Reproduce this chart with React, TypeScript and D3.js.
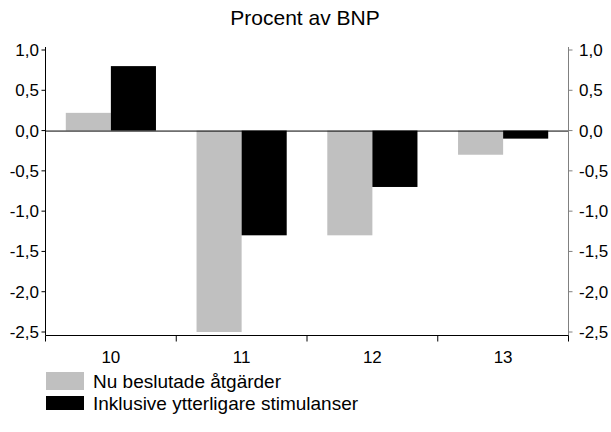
import React from "react";
import * as d3 from "d3";

const categories = ["10", "11", "12", "13"];
const seriesNames = ["Nu beslutade åtgärder", "Inklusive ytterligare stimulanser"];
const decided = [0.22, -2.5, -1.3, -0.3];
const inclusive = [0.8, -1.3, -0.7, -0.1];
const yTicks = [1.0, 0.5, 0.0, -0.5, -1.0, -1.5, -2.0, -2.5];
const title = "Effekt på offentliga sektorns finansiella sparande";
const subtitle = "Procent av BNP";

const colors = ["#c0c0c0", "#000000"];

export default function App() {
  const W = 611, H = 432;
  const left = 45.5, right = 568.5;
  const yTop = 50, yBot = 332;
  const axisY = 335.5;
  const x = d3.scaleBand().domain(categories).range([left, right]).paddingInner(0).paddingOuter(0);
  const inner = d3.scaleBand().domain(["0", "1"]).range([0, x.bandwidth()]).paddingOuter(0.45).paddingInner(0);
  const y = d3.scaleLinear().domain([-2.5, 1.0]).range([yBot, yTop]);
  const fmt = (v: number) => d3.format(".1f")(v).replace(".", ",").replace("−", "-");
  const series = [decided, inclusive];
  const font = "Arial, 'Liberation Sans', sans-serif";
  const xTicks = [...categories.map((c) => x(c)!), right];

  return (
    <svg width={W} height={H} style={{ position: "absolute", left: 0, top: 0 }} fontFamily={font}>
      <rect width={W} height={H} fill="#fff" />
      <text x={305} y={-5} textAnchor="middle" fontWeight="bold" fontSize={24}>{title}</text>
      <text x={305} y={18} dy="0.35em" textAnchor="middle" fontSize={21}>{subtitle}</text>
      {series.map((vals, si) =>
        vals.map((v, i) => {
          const bx = x(categories[i])! + inner(String(si))!;
          const y0 = y(0), y1 = y(v);
          return (
            <rect key={`${si}-${i}`} x={bx} y={Math.min(y0, y1)} width={inner.bandwidth()}
              height={Math.abs(y1 - y0)} fill={colors[si]} />
          );
        })
      )}
      <line x1={left} x2={right} y1={y(0) + 0.5} y2={y(0) + 0.5} stroke="#000" />
      {/* left axis */}
      <line x1={left} x2={left} y1={yTop - 3} y2={axisY} stroke="#000" />
      {yTicks.map((t) => (
        <g key={`l${t}`}>
          <line x1={left - 4} x2={left} y1={y(t)} y2={y(t)} stroke="#000" />
          <text x={39} y={y(t)} dy="0.35em" textAnchor="end" fontSize={17}>{fmt(t)}</text>
        </g>
      ))}
      {/* right axis */}
      <line x1={right} x2={right} y1={yTop - 3} y2={axisY} stroke="#808080" />
      {yTicks.map((t) => (
        <g key={`r${t}`}>
          <line x1={right} x2={right + 4} y1={y(t)} y2={y(t)} stroke="#808080" />
          <text x={579} y={y(t)} dy="0.35em" textAnchor="start" fontSize={17}>{fmt(t)}</text>
        </g>
      ))}
      {/* bottom axis */}
      <line x1={left} x2={right} y1={axisY} y2={axisY} stroke="#000" />
      {xTicks.map((t, i) => (
        <line key={`xt${i}`} x1={t} x2={t} y1={axisY} y2={axisY + 6} stroke="#000" />
      ))}
      {categories.map((c) => (
        <text key={c} x={x(c)! + x.bandwidth() / 2} y={357} dy="0.35em" textAnchor="middle" fontSize={17}>{c}</text>
      ))}
      {/* legend */}
      {seriesNames.map((n, i) => (
        <g key={n} transform={`translate(46, ${372 + i * 22})`}>
          <rect x={0} y={i === 0 ? 0 : 2} width={38} height={i === 0 ? 18 : 14} fill={colors[i]} />
          <text x={47} y={9} dy="0.35em" fontSize={19}>{n}</text>
        </g>
      ))}
    </svg>
  );
}
